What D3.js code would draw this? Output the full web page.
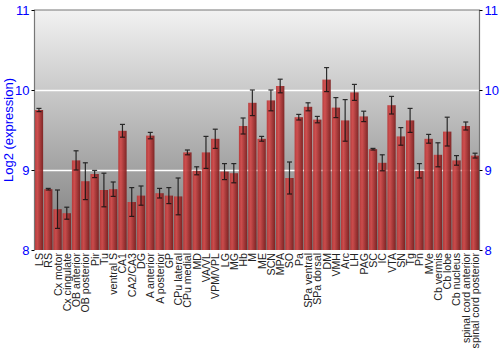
<!DOCTYPE html>
<html><head>
<meta charset="utf-8">
<script src="https://cdn.jsdelivr.net/npm/d3@7/dist/d3.min.js"></script>
<style>
  body { margin: 0; background: #fff; }
  .tick-lbl { fill: blue; font-family: "Liberation Sans", Arial, sans-serif; font-size: 13px; }
  .x-lbl { fill: #222; font-family: "Liberation Sans", Arial, sans-serif; font-size: 10.6px; }
</style>
</head>
<body>
<svg id="chart" width="500" height="350"></svg>
<script>
var regions = ["LS", "RS", "Cx motor", "Cx cingulate", "OB anterior", "OB posterior", "Pir", "Tu",
  "ventral S", "CA1", "CA2/CA3", "DG", "A anterior", "A posterior", "GP", "CPu lateral", "CPu medial",
  "MD", "VA/VL", "VPM/VPL", "LG", "MG", "Hb", "M", "ME", "SCN", "MPA", "SO", "Pa", "SPa ventral",
  "SPa dorsal", "DM", "VMH", "Arc", "LH", "PAG", "SC", "IC", "VTA", "SN", "Tg", "Pn", "MVe",
  "Cb vermis", "Cb lobe", "Cb nucleus", "spinal cord anterior", "spinal cord posterior"]
var expression = [9.75, 8.76, 8.51, 8.46, 9.12, 8.86, 8.95, 8.75,
  8.76, 9.49, 8.60, 8.68, 9.43, 8.71, 8.68, 8.67, 9.22,
  8.99, 9.22, 9.39, 8.98, 8.96, 9.55, 9.84, 9.39, 9.87, 10.05, 8.90, 9.66, 9.79,
  9.63, 10.13, 9.78, 9.62, 9.97, 9.67, 9.26, 9.09, 9.81, 9.42, 9.62, 8.99, 9.39,
  9.19, 9.48, 9.12, 9.55, 9.18]
var errors = [0.02, 0.01, 0.24, 0.075, 0.12, 0.23, 0.045, 0.21,
  0.09, 0.08, 0.18, 0.12, 0.04, 0.06, 0.1, 0.23, 0.03,
  0.05, 0.2, 0.12, 0.1, 0.12, 0.1, 0.16, 0.03, 0.13, 0.085, 0.2, 0.035, 0.05,
  0.04, 0.15, 0.125, 0.26, 0.1, 0.065, 0.01, 0.1, 0.11, 0.11, 0.15, 0.09, 0.055,
  0.15, 0.18, 0.06, 0.05, 0.03]
var yTicks = [8, 9, 10, 11]

// plot box (window.top is reserved, so prefix names)
var plotL = 34.5, plotR = 479.5, plotT = 10, plotB = 250

var svg = d3.select("#chart")
var defs = svg.append("defs")

var bg = defs.append("linearGradient").attr("id", "bg")
  .attr("x1", 0).attr("y1", 0).attr("x2", 0).attr("y2", 1)
bg.append("stop").attr("offset", "0%").attr("stop-color", "#f2f2f2")
bg.append("stop").attr("offset", "100%").attr("stop-color", "#7a7a7a")

var barGrad = defs.append("linearGradient").attr("id", "bar")
  .attr("x1", 0).attr("y1", 0).attr("x2", 1).attr("y2", 0)
barGrad.append("stop").attr("offset", "0%").attr("stop-color", "#b83434")
barGrad.append("stop").attr("offset", "30%").attr("stop-color", "#d04848")
barGrad.append("stop").attr("offset", "100%").attr("stop-color", "#7c1c1c")

var x = d3.scaleBand().domain(regions).range([plotL, plotR]).paddingInner(0.1).paddingOuter(0.03)
var y = d3.scaleLinear().domain([8, 11]).range([plotB, plotT])

// background
svg.append("rect").attr("x", plotL).attr("y", plotT)
  .attr("width", plotR - plotL).attr("height", plotB - plotT)
  .attr("fill", "url(#bg)")

// grid
svg.append("g").selectAll("line").data([9, 10]).enter().append("line")
  .attr("x1", plotL).attr("x2", plotR)
  .attr("y1", function(d) { return Math.round(y(d)) + 0.5 })
  .attr("y2", function(d) { return Math.round(y(d)) + 0.5 })
  .attr("stroke", "#fff").attr("stroke-width", 1.5)

// bars
svg.append("g").selectAll("rect").data(regions).enter().append("rect")
  .attr("x", function(d) { return x(d) })
  .attr("width", x.bandwidth())
  .attr("y", function(d, i) { return y(expression[i]) })
  .attr("height", function(d, i) { return plotB - y(expression[i]) })
  .attr("fill", "url(#bar)")
  .attr("opacity", 0.93)

// error bars
var eb = svg.append("g").attr("stroke", "#111").attr("stroke-width", 1.2).attr("opacity", 0.85)
regions.forEach(function(d, i) {
  var cx = x(d) + x.bandwidth() / 2
  var y1 = y(expression[i] + errors[i]), y2 = y(expression[i] - errors[i])
  eb.append("line").attr("x1", cx).attr("x2", cx).attr("y1", y1).attr("y2", y2)
  eb.append("line").attr("x1", cx - 2.5).attr("x2", cx + 2.5).attr("y1", y1).attr("y2", y1)
  eb.append("line").attr("x1", cx - 2.5).attr("x2", cx + 2.5).attr("y1", y2).attr("y2", y2)
})

// frame
svg.append("path")
  .attr("d", "M" + plotL + "," + plotB + "V" + plotT + "H" + plotR + "V" + plotB)
  .attr("fill", "none").attr("stroke", "#777").attr("stroke-width", 1.2)

// axes
var yl = svg.append("g").attr("transform", "translate(" + plotL + ",0)")
  .call(d3.axisLeft(y).tickValues(yTicks).tickSize(3).tickPadding(2).tickFormat(d3.format("d")))
yl.select(".domain").remove()
yl.selectAll("text").attr("class", "tick-lbl")
yl.selectAll("line").attr("stroke", "#000")

var yr = svg.append("g").attr("transform", "translate(" + plotR + ",0)")
  .call(d3.axisRight(y).tickValues(yTicks).tickSize(3).tickPadding(2).tickFormat(d3.format("d")))
yr.select(".domain").remove()
yr.selectAll("text").attr("class", "tick-lbl")
yr.selectAll("line").attr("stroke", "#000")

svg.append("text")
  .attr("transform", "translate(13," + ((plotT + plotB) / 2) + ") rotate(-90)")
  .attr("text-anchor", "middle")
  .attr("class", "tick-lbl")
  .text("Log2 (expression)")

// x labels
svg.append("g").selectAll("text").data(regions).enter().append("text")
  .attr("class", "x-lbl")
  .attr("text-anchor", "end")
  .attr("transform", function(d) {
    return "translate(" + (x(d) + x.bandwidth() / 2 + 4) + "," + (plotB + 3) + ") rotate(-90)"
  })
  .text(function(d) { return d })
</script>
</body>
</html>
